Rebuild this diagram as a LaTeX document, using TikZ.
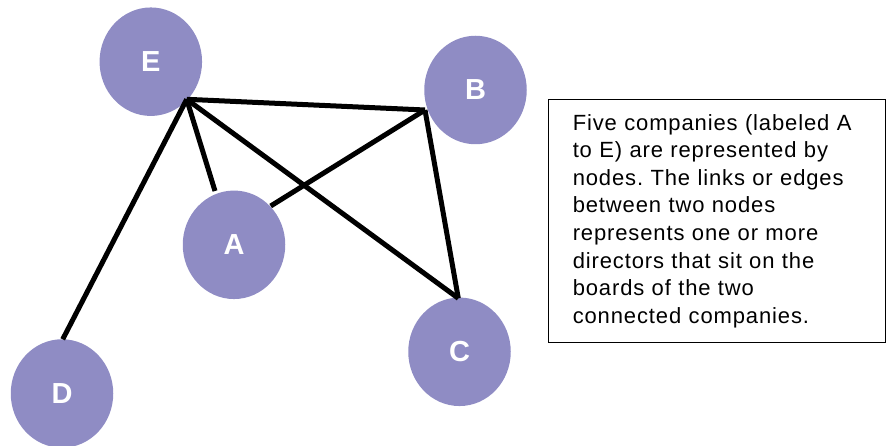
\documentclass[tikz,border=0pt]{standalone}
\usepackage{fontspec}
\setmainfont{Liberation Sans}
\usetikzlibrary{shapes.geometric}
\definecolor{nodefill}{RGB}{143,140,196}
\frenchspacing
\tikzset{
  company/.style={ellipse, fill=nodefill, draw=none, minimum width=102.5pt, minimum height=108.5pt, inner sep=0pt,
    text=white, font=\fontsize{29}{30}\selectfont\bfseries},
  link/.style={line width=5pt, black},
  note/.style={draw=black, line width=1.5pt, anchor=north west, minimum width=337pt, minimum height=242.5pt,
    text width=288pt, inner xsep=24.5pt, align=left,
    font=\fontsize{22}{27.6}\selectfont\addfontfeature{LetterSpace=4}}
}
\begin{document}
\begin{tikzpicture}[x=1pt,y=1pt]
\useasboundingbox (0,0) rectangle (891,445);
% nodes
\node[company] (E) at (150.8,383.3) {E};
\node[company] (B) at (475.5,355) {B};
\node[company] (A) at (234,200.2) {A};
\node[company] (C) at (459.5,93.2) {C};
\node[company] (D) at (62,51.5) {D};
% connector end points
\coordinate (pE) at (186.7,345.7);
\coordinate (pB) at (425,335);
\coordinate (pA1) at (215,254);
\coordinate (pA2) at (270.7,239);
\coordinate (pC) at (458.3,146.7);
\coordinate (pD) at (62.7,105.7);
% links
\draw[link] (pE) -- (pD);
\draw[link] (pE) -- (pA1);
\draw[link] (pE) -- (pB);
\draw[link] (pE) -- (pC);
\draw[link] (pB) -- (pA2);
\draw[link] (pB) -- (pC);
% note
\node[note] (txt) at (547.5,346) {Five companies (labeled A\\
to E) are represented by\\
nodes. The links or edges\\
between two nodes\\
represents one or more\\
directors that sit on the\\
boards of the two\\
connected companies.};
\end{tikzpicture}
\end{document}
